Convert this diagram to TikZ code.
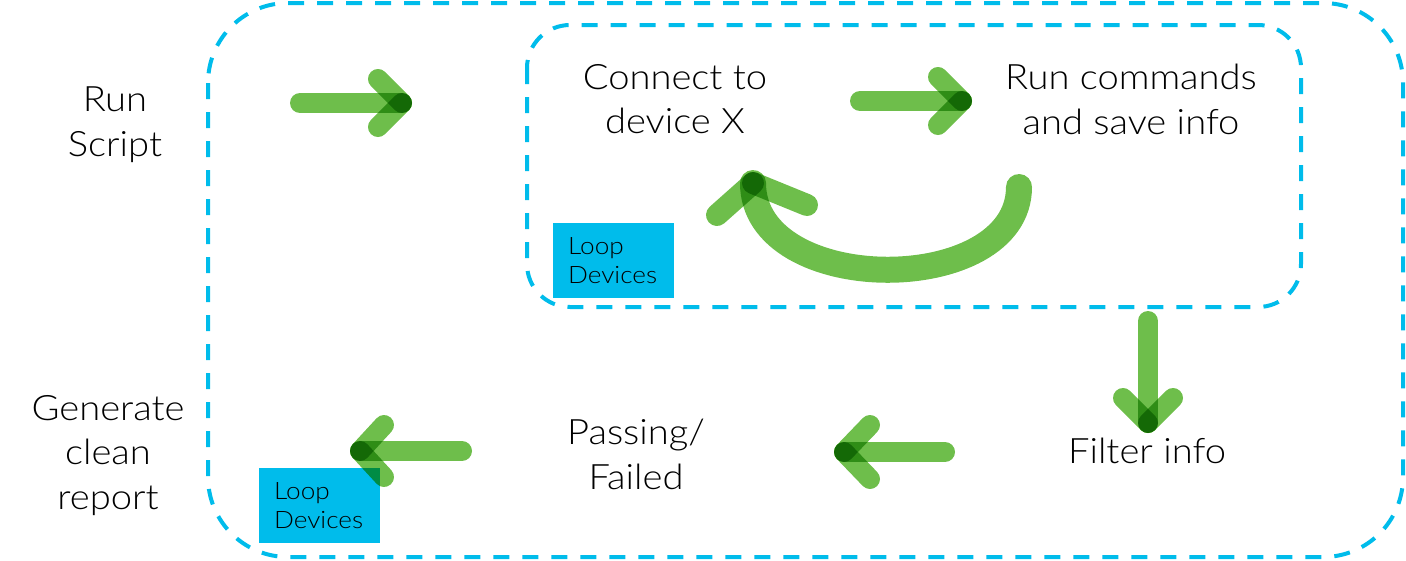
\documentclass[tikz,border=0pt]{standalone}
\usepackage{fontspec}
\setmainfont{Lato Light}[FakeStretch=1.09]
\usetikzlibrary{calc}
\definecolor{gArrow}{RGB}{110,190,75}
\definecolor{cyanLine}{RGB}{0,188,235}
\tikzset{
  dashbox/.style={draw=cyanLine, line width=4pt, dash pattern=on 16pt off 13pt},
  gline/.style={draw=gArrow, line width=20pt, line cap=round},
  gcurve/.style={draw=gArrow, line width=26pt, line cap=round},
  gbarb/.style={draw=gArrow, line width=22pt, line cap=round},
  lbl/.style={font=\fontsize{35}{44.5}\selectfont, align=center, inner sep=0pt, anchor=north, text=black},
  loopbox/.style={fill=cyanLine, anchor=north west, inner xsep=15pt, inner ysep=0pt,
    text width=91pt, minimum height=75pt, align=left, font=\fontsize{24}{29}\selectfont, text=black},
}
\begin{document}
\begin{tikzpicture}[x=1pt,y=1pt]
\useasboundingbox (0,0) rectangle (1406,-560);
% dashed containers
\draw[dashbox, rounded corners=80pt] (208,-3) rectangle (1403,-557);
\draw[dashbox, rounded corners=43pt] (527,-25) rectangle (1301,-307);
% loop boxes
\node[loopbox] (loopA) at (553,-223) {Loop\\Devices};
\node[loopbox] (loopB) at (259,-468) {Loop\\Devices};
% arrow end points
\coordinate (a1s) at (300,-103); \coordinate (a1t) at (402,-103);
\coordinate (a2s) at (860,-101); \coordinate (a2t) at (962,-101);
\coordinate (a3s) at (1148,-321); \coordinate (a3t) at (1148,-423);
\coordinate (a4s) at (945,-452); \coordinate (a4t) at (844,-452);
\coordinate (a5s) at (462,-451); \coordinate (a5t) at (360,-451);
\coordinate (cs) at (1019,-187); \coordinate (ct) at (753,-183);
\begin{scope}[blend mode=multiply]
  \draw[gline] (a1s) -- (a1t);
  \draw[gline] ($(a1t)+(-24,24)$) -- (a1t);
  \draw[gline] ($(a1t)+(-24,-24)$) -- (a1t);
  \draw[gline] (a2s) -- (a2t);
  \draw[gline] ($(a2t)+(-24,24)$) -- (a2t);
  \draw[gline] ($(a2t)+(-24,-24)$) -- (a2t);
  \draw[gline] (a3s) -- (a3t);
  \draw[gline] ($(a3t)+(-25,25)$) -- (a3t);
  \draw[gline] ($(a3t)+(25,25)$) -- (a3t);
  \draw[gline] (a4s) -- (a4t);
  \draw[gline] ($(a4t)+(26,27)$) -- (a4t);
  \draw[gline] ($(a4t)+(26,-27)$) -- (a4t);
  \draw[gline] (a5s) -- (a5t);
  \draw[gline] ($(a5t)+(24,26)$) -- (a5t);
  \draw[gline] ($(a5t)+(24,-26)$) -- (a5t);
  \draw[gcurve] (cs) .. controls (1019,-298) and (753,-298) .. (ct);
  \draw[gbarb] ($(ct)+(-36,-32)$) -- (ct);
  \draw[gbarb] ($(ct)+(54,-22)$) -- (ct);
\end{scope}
% labels
\node[lbl] (run) at (115,-87) {Run\\Script};
\node[lbl] (connect) at (675,-64) {Connect to\\device X};
\node[lbl] (cmds) at (1131,-64) {Run commands\\and save info};
\node[lbl] (filter) at (1147,-438) {Filter info};
\node[lbl] (pass) at (636,-419) {Passing/\\Failed};
\node[lbl] (gen) at (108,-395) {Generate\\clean\\report};
\end{tikzpicture}
\end{document}
